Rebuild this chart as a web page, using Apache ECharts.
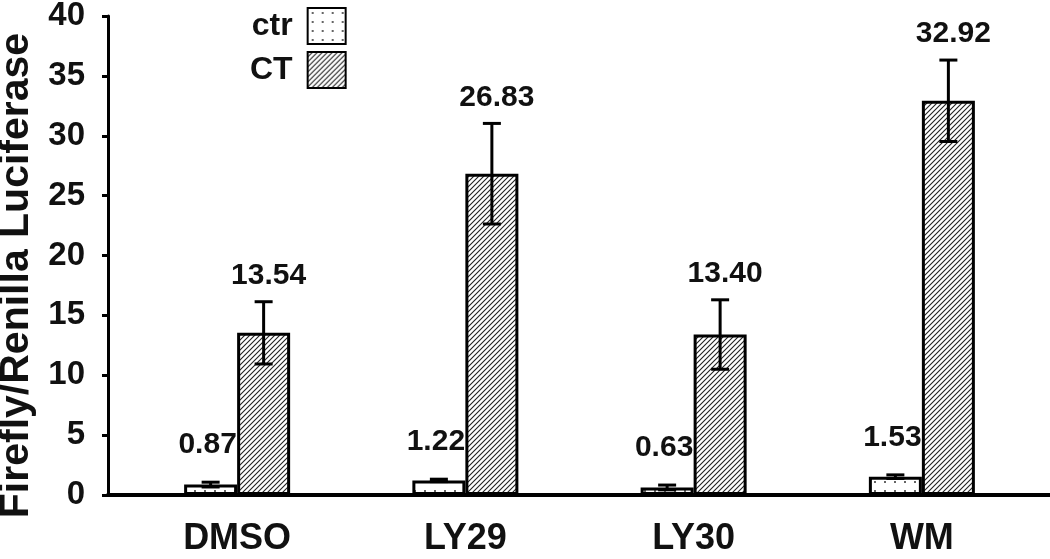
<!DOCTYPE html>
<html>
<head>
<meta charset="utf-8">
<script src="https://cdn.jsdelivr.net/npm/echarts@6/dist/echarts.min.js"></script>
<style>html,body{margin:0;padding:0;background:#fff}#c{width:1050px;height:559px}</style>
</head>
<body>
<div id="c"></div>
<script>
const categories = ['DMSO', 'LY29', 'LY30', 'WM'];
const ctrValues = [0.87, 1.22, 0.63, 1.53];
const ctValues = [13.54, 26.83, 13.40, 32.92];
const ctrErrors = [0.2, 0.1, 0.2, 0.15];
const ctErrors = [2.6, 4.2, 2.9, 3.4];
const ctrLabels = ['0.87', '1.22', '0.63', '1.53'];
const ctLabels = ['13.54', '26.83', '13.40', '32.92'];
const yMin = 0, yMax = 40, yStep = 5;

const FONT = 'Liberation Sans, Arial, sans-serif';
const BAR_W = 53;

function hatchPattern() {
  const c = document.createElement('canvas');
  c.width = 5; c.height = 5;
  const g = c.getContext('2d');
  g.fillStyle = '#fff'; g.fillRect(0, 0, 5, 5);
  g.strokeStyle = '#222'; g.lineWidth = 1.1;
  g.beginPath();
  g.moveTo(0, 5); g.lineTo(5, 0);
  g.moveTo(-2.5, 2.5); g.lineTo(2.5, -2.5);
  g.moveTo(2.5, 7.5); g.lineTo(7.5, 2.5);
  g.stroke();
  return c;
}
function dotPattern() {
  const c = document.createElement('canvas');
  c.width = 10; c.height = 9;
  const g = c.getContext('2d');
  g.fillStyle = '#fff'; g.fillRect(0, 0, 10, 9);
  g.fillStyle = '#666';
  g.fillRect(4, 4, 2, 2);
  return c;
}

const chart = echarts.init(document.getElementById('c'), null, {renderer: 'canvas'});

function errorSeries(name, values, errors, labels, offsetSign, gap, labelShift) {
  return {
    name: name + '_err',
    type: 'custom',
    xAxisIndex: 0, yAxisIndex: 0,
    z: 5,
    silent: true,
    data: values.map((v, i) => [i, v, errors[i], labels[i]]),
    renderItem: function (params, api) {
      const i = api.value(0), v = api.value(1), e = api.value(2);
      const top = api.coord([i, v + e]);
      const bot = api.coord([i, v - e]);
      const x = top[0] + offsetSign * BAR_W / 2;
      const cap = 9;
      const st = {stroke: '#000', lineWidth: 3};
      return {
        type: 'group',
        children: [
          {type: 'line', shape: {x1: x, y1: top[1], x2: x, y2: bot[1]}, style: st},
          {type: 'line', shape: {x1: x - cap, y1: top[1], x2: x + cap, y2: top[1]}, style: st},
          {type: 'line', shape: {x1: x - cap, y1: bot[1], x2: x + cap, y2: bot[1]}, style: st},
          {type: 'text', style: {x: x + labelShift, y: top[1] - gap, text: labels[params.dataIndex],
            textAlign: 'center', textVerticalAlign: 'bottom',
            font: 'bold 30px ' + FONT, fill: '#111'}}
        ]
      };
    }
  };
}

const option = {
  backgroundColor: '#fff',
  animation: false,
  grid: [
    {left: 123, right: 14, top: 16, bottom: 64, outerBoundsMode: 'none', containLabel: false},
    {left: 108, right: 0, top: 16, bottom: 64, outerBoundsMode: 'none', containLabel: false}
  ],
  legend: {
    data: ['ctr', 'CT'],
    orient: 'vertical',
    left: 245, top: 2,
    align: 'right',
    icon: 'rect',
    itemWidth: 38, itemHeight: 36, itemGap: 6,
    textStyle: {fontFamily: FONT, fontWeight: 'bold', fontSize: 32, color: '#111', padding: [0, 10, 0, 0]}
  },
  xAxis: [
    {type: 'category', gridIndex: 0, data: categories,
     axisLine: {show: false}, axisTick: {show: false},
     axisLabel: {margin: 26, fontFamily: FONT, fontWeight: 'bold', fontSize: 36, color: '#111'}},
    {type: 'value', gridIndex: 1, min: 0, max: 1, position: 'bottom',
     axisLine: {show: true, onZero: false, lineStyle: {color: '#000', width: 4}},
     axisTick: {show: false}, axisLabel: {show: false}, splitLine: {show: false}}
  ],
  yAxis: [
    {type: 'value', gridIndex: 0, min: yMin, max: yMax, interval: yStep,
     axisLine: {show: false}, axisTick: {show: false}, axisLabel: {show: false}, splitLine: {show: false}},
    {type: 'value', gridIndex: 1, min: yMin, max: yMax, interval: yStep,
     name: 'Firefly/Renilla Luciferase', nameLocation: 'middle', nameGap: 68,
     nameTextStyle: {fontFamily: FONT, fontWeight: 'bold', fontSize: 41, color: '#111', padding: [0, 40, 0, 0]},
     axisLine: {show: true, onZero: false, lineStyle: {color: '#000', width: 3}},
     axisTick: {show: true, inside: false, length: 6, lineStyle: {color: '#000', width: 3}},
     axisLabel: {margin: 23, fontFamily: FONT, fontWeight: 'bold', fontSize: 33, color: '#111'},
     splitLine: {show: false}}
  ],
  series: [
    {name: 'ctr', type: 'bar', xAxisIndex: 0, yAxisIndex: 0, data: ctrValues,
     barWidth: BAR_W, barGap: '0%',
     itemStyle: {color: {image: dotPattern(), repeat: 'repeat'}, borderColor: '#000', borderWidth: 3}},
    {name: 'CT', type: 'bar', xAxisIndex: 0, yAxisIndex: 0, data: ctValues,
     barWidth: BAR_W, barGap: '0%',
     itemStyle: {color: {image: hatchPattern(), repeat: 'repeat'}, borderColor: '#000', borderWidth: 3}},
    errorSeries('ctr', ctrValues, ctrErrors, ctrLabels, -1, 22, -3),
    errorSeries('CT', ctValues, ctErrors, ctLabels, 1, 11, 5)
  ]
};
chart.setOption(option);
</script>
</body>
</html>
